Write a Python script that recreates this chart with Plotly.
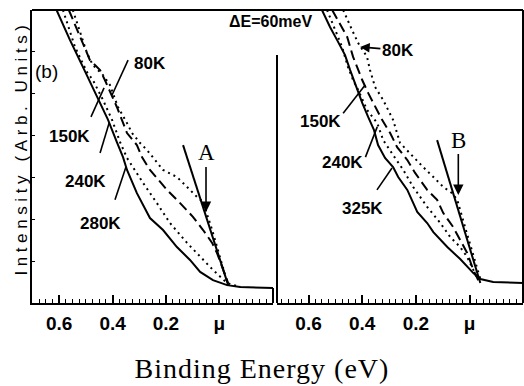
import plotly.graph_objects as go

# ---------------- data (binding energy in eV, intensity in arb. units) ----------------
# Panel A (left)
A_E_280K = [0.610, 0.560, 0.511, 0.459, 0.417, 0.384, 0.361, 0.346, 0.309, 0.260, 0.211, 0.159,
            0.110, 0.072, 0.024, -0.029, -0.078, -0.201]
A_I_280K = [100.0, 89.8, 80.5, 70.3, 62.5, 54.9, 49.8, 45.4, 37.5, 29.0, 24.9, 19.1,
            14.7, 10.6, 7.8, 6.1, 5.5, 5.1]
A_E_240K = [0.586, 0.541, 0.496, 0.474, 0.436, 0.402, 0.372, 0.346, 0.324, 0.286, 0.234, 0.185,
            0.121, 0.072, 0.024, -0.029, -0.078]
A_I_240K = [100.0, 87.4, 78.8, 76.1, 69.3, 62.5, 54.9, 49.5, 46.4, 41.0, 34.1, 27.3,
            20.5, 15.7, 11.3, 6.8, 5.5]
A_E_150K = [0.564, 0.522, 0.485, 0.447, 0.429, 0.384, 0.346, 0.309, 0.290, 0.260, 0.196, 0.147,
            0.099, 0.061, 0.027, 0.009, -0.014, -0.033]
A_I_150K = [100.0, 90.8, 82.9, 79.5, 76.1, 66.9, 58.0, 53.9, 49.8, 45.4, 38.6, 34.1,
            29.4, 24.9, 20.5, 17.1, 11.3, 6.8]
A_E_80K = [0.549, 0.515, 0.496, 0.474, 0.436, 0.410, 0.380, 0.346, 0.327, 0.297, 0.271, 0.211,
           0.159, 0.121, 0.084, 0.061, 0.027, -0.003, -0.033]
A_I_80K = [100.0, 90.8, 85.3, 81.2, 77.8, 74.4, 66.9, 61.4, 58.0, 54.6, 52.2, 45.4,
           43.0, 39.6, 36.2, 34.5, 24.9, 15.4, 6.1]
A_E_edge = [0.136, -0.033]
A_I_edge = [53.9, 6.1]

# Panel B (right)
B_E_325K = [0.550, 0.520, 0.494, 0.464, 0.445, 0.423, 0.400, 0.378, 0.356, 0.341, 0.315, 0.285,
            0.266, 0.232, 0.195, 0.158, 0.135, 0.083, 0.035, -0.014, -0.040, -0.088, -0.200]
B_I_325K = [100.0, 94.2, 89.8, 84.6, 79.5, 73.7, 68.3, 63.5, 59.0, 53.9, 49.5, 46.4,
            43.0, 38.6, 31.1, 27.3, 24.2, 19.1, 15.0, 10.2, 8.2, 7.2, 6.8]
B_E_240K = [0.531, 0.501, 0.475, 0.453, 0.434, 0.415, 0.382, 0.344, 0.322, 0.285, 0.247, 0.210,
            0.158, 0.109, 0.072, 0.035, 0.009, -0.014, -0.032]
B_I_240K = [100.0, 93.2, 87.4, 80.5, 76.1, 72.7, 65.9, 61.4, 55.6, 50.5, 45.4, 39.6,
            32.8, 27.3, 22.5, 19.1, 15.7, 11.3, 7.8]
B_E_150K = [0.512, 0.456, 0.434, 0.400, 0.378, 0.352, 0.326, 0.296, 0.270, 0.232, 0.203, 0.158,
            0.121, 0.098, 0.061, 0.035, 0.009, -0.014, -0.032]
B_I_150K = [100.0, 90.8, 84.0, 76.1, 71.7, 66.9, 62.5, 58.0, 53.2, 48.8, 44.4, 38.6,
            35.2, 30.7, 25.9, 21.5, 17.1, 11.3, 7.8]
B_E_80K = [0.471, 0.456, 0.438, 0.415, 0.382, 0.371, 0.352, 0.322, 0.303, 0.285, 0.259, 0.210,
           0.173, 0.135, 0.098, 0.065, 0.046, 0.016, -0.014, -0.040]
B_I_80K = [100.0, 96.6, 93.2, 88.7, 84.0, 79.5, 73.7, 69.3, 65.9, 62.5, 54.6, 49.8,
           46.4, 43.0, 39.6, 37.5, 35.2, 25.6, 16.4, 8.2]
B_E_edge = [0.121, -0.040]
B_I_edge = [55.6, 6.8]

TICK_VALS = [0.6, 0.4, 0.2, 0.0]
TICK_TEXT = ["0.6", "0.4", "0.2", "μ"]

# ---------------- styling ----------------
SANS = "Liberation Sans, Arial, sans-serif"
SERIF = "Liberation Serif, Times New Roman, serif"
K = "black"
SOLID = dict(color=K, width=2)
DOT = dict(color=K, width=2, dash="2px,4px")
DASH = dict(color=K, width=2, dash="10px,5px")

fig = go.Figure()

def add(xs, ys, line, xa, ya):
    fig.add_trace(go.Scatter(x=xs, y=ys, mode="lines", line=line, xaxis=xa, yaxis=ya,
                             showlegend=False, hoverinfo="skip"))

add(A_E_280K, A_I_280K, SOLID, "x", "y")
add(A_E_240K, A_I_240K, DOT, "x", "y")
add(A_E_150K, A_I_150K, DASH, "x", "y")
add(A_E_80K, A_I_80K, DOT, "x", "y")
add(A_E_edge, A_I_edge, SOLID, "x", "y")

add(B_E_325K, B_I_325K, SOLID, "x2", "y2")
add(B_E_240K, B_I_240K, DOT, "x2", "y2")
add(B_E_150K, B_I_150K, DASH, "x2", "y2")
add(B_E_80K, B_I_80K, DOT, "x2", "y2")
add(B_E_edge, B_I_edge, SOLID, "x2", "y2")

W, H = 524, 386
ydom = [(H - 303) / H, (H - 10) / H]

def xaxis_cfg(dom, rng, anchor):
    return dict(domain=dom, range=rng, anchor=anchor, showgrid=False, zeroline=False,
                showline=True, linecolor=K, linewidth=2,
                tickmode="array", tickvals=TICK_VALS, ticktext=TICK_TEXT,
                ticks="inside", ticklen=8, tickwidth=1.5, tickcolor=K,
                minor=dict(tickmode="linear", tick0=0, dtick=0.025, ticks="inside",
                           ticklen=4, tickwidth=1.2, tickcolor=K),
                tickfont=dict(family=SANS, size=19, color=K, weight="bold"),
                ticklabelstandoff=2)

fig.update_layout(
    width=W, height=H, margin=dict(l=0, r=0, t=0, b=0),
    paper_bgcolor="white", plot_bgcolor="white",
    xaxis=xaxis_cfg([32 / W, 273 / W], [0.702, -0.201], "y"),
    xaxis2=xaxis_cfg([277 / W, 523 / W], [0.7175, -0.199], "y2"),
    yaxis=dict(domain=ydom, range=[0, 100], anchor="x", showgrid=False, zeroline=False,
               showline=True, linecolor=K, linewidth=2, showticklabels=False,
               ticks="inside", ticklen=3, tickcolor=K, dtick=14.3),
    yaxis2=dict(domain=ydom, range=[0, 100], anchor="x2", showgrid=False, zeroline=False,
                showline=False, showticklabels=False),
)

# frame pieces
shapes = [
    dict(type="line", xref="paper", yref="paper", x0=32 / W, x1=523 / W, y0=ydom[1], y1=ydom[1],
         line=dict(color=K, width=2)),
    dict(type="line", xref="x2 domain", yref="y2 domain", x0=1, x1=1, y0=0, y1=1,
         line=dict(color=K, width=2)),
    dict(type="line", xref="x2 domain", yref="y2 domain", x0=0, x1=0, y0=0, y1=0.846,
         line=dict(color=K, width=2)),
    dict(type="line", xref="x domain", yref="y", x0=1, x1=1, y0=0, y1=5.1,
         line=dict(color=K, width=2)),
]

# label pointer lines (x0, y0, x1, y1, axis)
pointers = [
    (0.342, 82.9, 0.402, 71.0, "x", "y"),
    (0.481, 63.5, 0.432, 73.4, "x", "y"),
    (0.447, 51.2, 0.413, 61.4, "x", "y"),
    (0.391, 35.2, 0.350, 46.4, "x", "y"),
    (0.471, 64.8, 0.389, 74.4, "x2", "y2"),
    (0.388, 49.8, 0.344, 60.1, "x2", "y2"),
    (0.345, 38.6, 0.289, 46.1, "x2", "y2"),
]
for x0, y0, x1, y1, xr, yr in pointers:
    shapes.append(dict(type="line", xref=xr, yref=yr, x0=x0, y0=y0, x1=x1, y1=y1,
                       line=dict(color=K, width=1.6)))
fig.update_layout(shapes=shapes)

LBL = dict(family=SANS, size=17, color=K, weight="bold")
C = dict(xanchor="center", yanchor="middle")
annotations = [
    dict(text="80K", x=0.260, y=81.9, xref="x", yref="y", showarrow=False, font=LBL, **C),
    dict(text="150K", x=0.560, y=56.7, xref="x", yref="y", showarrow=False, font=LBL, **C),
    dict(text="240K", x=0.503, y=41.3, xref="x", yref="y", showarrow=False, font=LBL, **C),
    dict(text="280K", x=0.447, y=27.3, xref="x", yref="y", showarrow=False, font=LBL, **C),
    dict(text="150K", x=0.556, y=61.8, xref="x2", yref="y2", showarrow=False, font=LBL, **C),
    dict(text="240K", x=0.475, y=47.8, xref="x2", yref="y2", showarrow=False, font=LBL, **C),
    dict(text="325K", x=0.400, y=32.1, xref="x2", yref="y2", showarrow=False, font=LBL, **C),
    dict(text="80K", x=0.408, y=87.4, ax=0.267, ay=86.3, xref="x2", yref="y2",
         axref="x2", ayref="y2", showarrow=True, arrowhead=2, arrowsize=1.2, arrowwidth=1.6,
         arrowcolor=K, font=LBL, **C),
    dict(text="A", x=0.050, y=31.1, ax=0.050, ay=51.2, xref="x", yref="y", axref="x", ayref="y",
         showarrow=True, arrowhead=2, arrowsize=1.3, arrowwidth=1.6, arrowcolor=K,
         font=dict(family=SERIF, size=23, color=K), **C),
    dict(text="B", x=0.042, y=36.9, ax=0.042, ay=55.6, xref="x2", yref="y2", axref="x2", ayref="y2",
         showarrow=True, arrowhead=2, arrowsize=1.3, arrowwidth=1.6, arrowcolor=K,
         font=dict(family=SERIF, size=23, color=K), **C),
    dict(text="ΔE=60meV", x=270 / W, y=(H - 22) / H, xref="paper", yref="paper",
         showarrow=False, font=dict(family=SANS, size=16, color=K, weight="bold"), **C),
    dict(text="(b)", x=46 / W, y=(H - 71) / H, xref="paper", yref="paper",
         showarrow=False, font=dict(family=SANS, size=19, color=K), **C),
    dict(text="Binding Energy (eV)", x=262 / W, y=(H - 368) / H, xref="paper", yref="paper",
         showarrow=False, font=dict(family=SERIF, size=28, color=K), **C),
    dict(text="Intensity (Arb. Units)", x=21 / W, y=(H - 148) / H, xref="paper", yref="paper",
         textangle=-90, showarrow=False,
         font=dict(family=SANS, size=17, color=K), **C),
]
fig.update_layout(annotations=annotations)

post = """
var gd = document.getElementById('{plot_id}');
gd.querySelectorAll('.annotation-text').forEach(function(t){
  var s = t.textContent;
  if (s.indexOf('Intensity') === 0) { t.style.letterSpacing = '4.6px'; }
  if (s.indexOf('Binding') === 0) { t.style.letterSpacing = '1px'; }
});
"""
fig.write_html("out.html", post_script=post)
